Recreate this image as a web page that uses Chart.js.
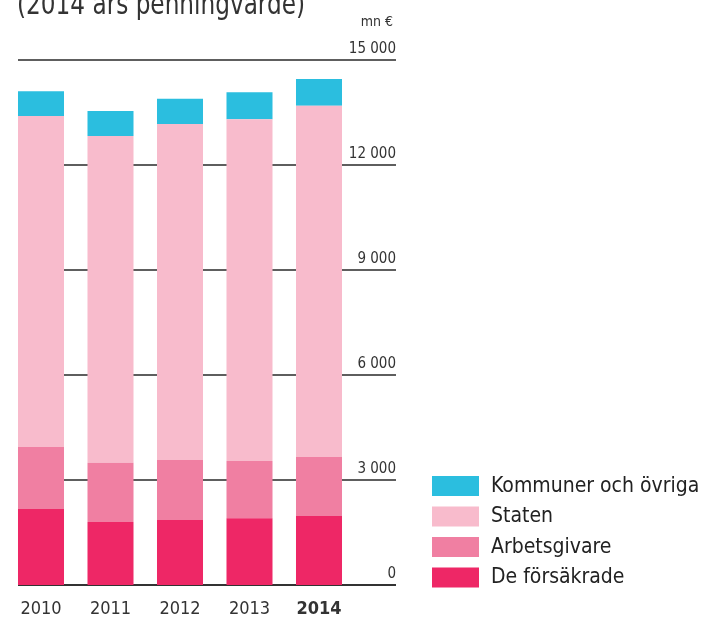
<!DOCTYPE html>
<html>
<head>
<meta charset="utf-8">
<script src="https://cdn.jsdelivr.net/npm/chart.js@4/dist/chart.umd.min.js"></script>
<style>
html,body{margin:0;padding:0;background:#fff;}
#wrap{position:relative;width:701px;height:618px;}
</style>
</head>
<body>
<div id="wrap"><canvas id="c" width="701" height="618"></canvas></div>
<script>
const years = ["2010", "2011", "2012", "2013", "2014"];
const deForsakrade = [2170, 1800, 1860, 1910, 1970];
const arbetsgivare = [1770, 1690, 1710, 1630, 1690];
const staten = [9460, 9340, 9600, 9770, 10030];
const kommunerOvriga = [710, 710, 720, 770, 770];
const yTicks = [0, 3000, 6000, 9000, 12000, 15000];
const tickLabels = ["0", "3 000", "6 000", "9 000", "12 000", "15 000"];
const titleText = "(2014 års penningvärde)";
const unitText = "mn €";

const FONT = "'Liberation Sans Narrow', 'DejaVu Sans Condensed', 'Roboto Condensed', sans-serif";

const overlay = {
  id: 'overlay',
  beforeDatasetsDraw(chart) {
    const ctx = chart.ctx;
    const y = chart.scales.y;
    ctx.save();
    yTicks.forEach((v, i) => {
      const py = Math.round(y.getPixelForValue(v));
      ctx.strokeStyle = v === 0 ? '#333333' : '#5e5e5e';
      ctx.lineWidth = 2;
      ctx.beginPath();
      ctx.moveTo(18, py);
      ctx.lineTo(396, py);
      ctx.stroke();
      ctx.fillStyle = '#333333';
      ctx.font = '15px ' + FONT;
      ctx.textAlign = 'right';
      ctx.textBaseline = 'alphabetic';
      ctx.fillText(tickLabels[i], 396, py - 7);
    });
    ctx.restore();
  },
  afterDraw(chart) {
    const ctx = chart.ctx;
    ctx.save();
    ctx.fillStyle = '#333333';
    ctx.font = '30px ' + FONT;
    ctx.textAlign = 'left';
    ctx.textBaseline = 'alphabetic';
    const w = ctx.measureText(titleText).width;
    const sx = 288 / w;
    ctx.save();
    ctx.translate(17, 14);
    ctx.scale(sx, 1);
    ctx.fillText(titleText, 0, 0);
    ctx.restore();
    ctx.font = '14px ' + FONT;
    ctx.textAlign = 'right';
    ctx.fillText(unitText, 393, 26);
    // legend (reverse order)
    const ds = chart.data.datasets.slice().reverse();
    ctx.textAlign = 'left';
    ctx.textBaseline = 'middle';
    ctx.font = '21px ' + FONT;
    ds.forEach((d, i) => {
      const top = 476 + i * 30.5;
      ctx.fillStyle = d.backgroundColor;
      ctx.fillRect(432, top, 47, 20);
      ctx.fillStyle = '#222222';
      ctx.fillText(d.label, 491, top + 10.5);
    });
    ctx.restore();
  }
};

new Chart(document.getElementById('c'), {
  type: 'bar',
  data: {
    labels: years,
    datasets: [
      { label: 'De försäkrade', data: deForsakrade, backgroundColor: '#ee2766' },
      { label: 'Arbetsgivare', data: arbetsgivare, backgroundColor: '#f07fa2' },
      { label: 'Staten', data: staten, backgroundColor: '#f8bbcc' },
      { label: 'Kommuner och övriga', data: kommunerOvriga, backgroundColor: '#2bbedf' }
    ]
  },
  options: {
    responsive: false,
    animation: false,
    events: [],
    layout: { padding: { left: 6.25, right: 347.25, top: 60, bottom: 2 } },
    datasets: { bar: { barPercentage: 0.662, categoryPercentage: 1, borderWidth: 0 } },
    plugins: { legend: { display: false }, tooltip: { enabled: false }, title: { display: false } },
    scales: {
      x: {
        stacked: true,
        offset: true,
        grid: { display: false, drawTicks: false },
        border: { display: false },
        afterFit: (scale) => { scale.height = 31; },
        ticks: {
          padding: 15,
          color: '#333333',
          maxRotation: 0,
          autoSkip: false,
          font: (c) => ({ family: FONT, size: 18, lineHeight: 1, weight: c.index === 4 ? 'bold' : 'normal' })
        }
      },
      y: {
        stacked: true,
        display: false,
        min: 0,
        max: 15000,
        ticks: { stepSize: 3000 }
      }
    }
  },
  plugins: [overlay]
});
</script>
</body>
</html>
